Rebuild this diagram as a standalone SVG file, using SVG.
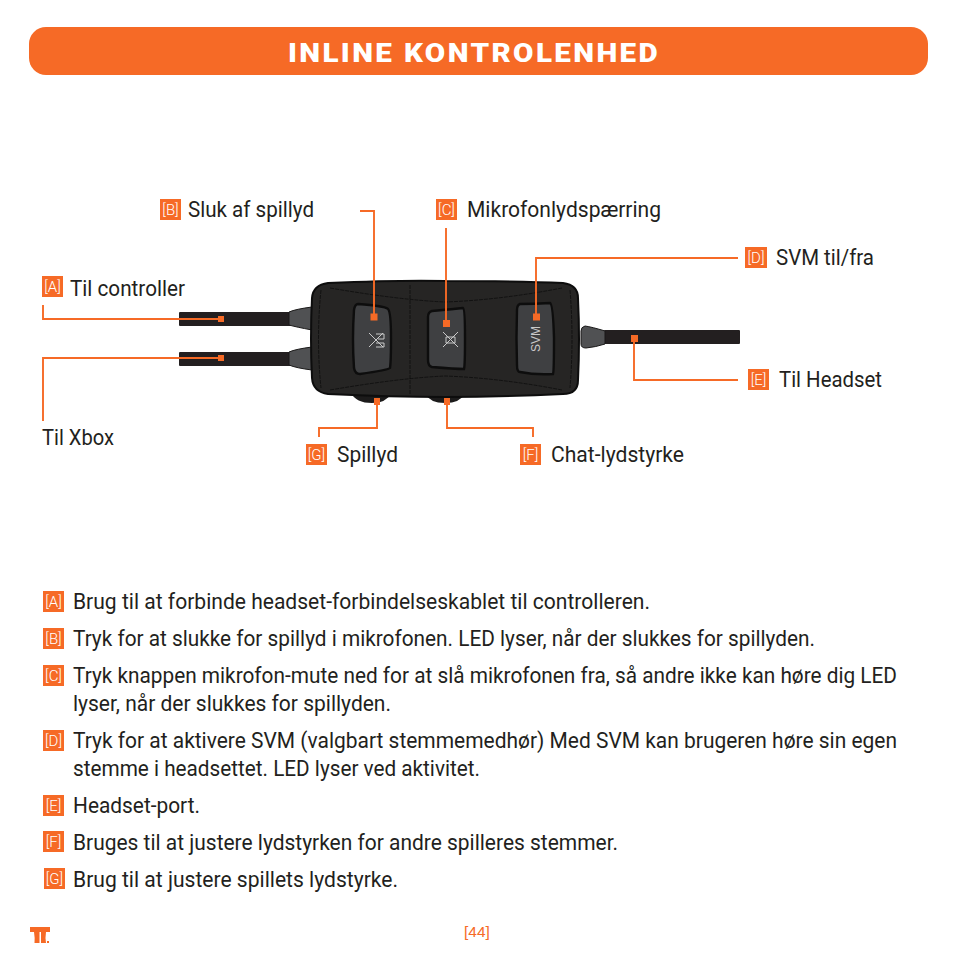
<svg xmlns="http://www.w3.org/2000/svg" width="954" height="954" viewBox="0 0 954 954">
<style>
.t{font-family:"Roboto","Liberation Sans",sans-serif;font-size:22px;fill:#231f20}
.b{fill:#f66a26}
.bt{font-family:"Roboto","Liberation Sans",sans-serif;font-weight:300;font-size:15px;fill:#fff;text-anchor:middle}
.l{fill:none;stroke:#f66a26;stroke-width:1.9}
.s{fill:#f66a26}
.btn{fill:#3f4042;stroke:#0d0d0d;stroke-width:2.4}
.gr{fill:#505153;stroke:#1a1919;stroke-width:1}
.c{fill:#231f20}
.g{fill:none;stroke:#c9c9c9;stroke-width:1}
.d{fill:none;stroke:#0c0c0c;stroke-width:.8}
</style>
<rect x="0" y="0" width="954" height="954" fill="#fff"/>
<g id="header"><rect x="29" y="27" width="899" height="48" rx="17" fill="#f66a26"/>
<text x="288" y="61.500" font-family="'Roboto',sans-serif" font-weight="900" font-size="25" letter-spacing="2" fill="#fff" textLength="372" lengthAdjust="spacingAndGlyphs">INLINE KONTROLENHED</text></g>
<g id="device">
<rect class="c" x="179" y="312" width="112" height="14" rx="1"/>
<rect class="c" x="179" y="352" width="112" height="14" rx="1"/>
<rect class="c" x="604" y="330" width="136" height="14" rx="1"/>
<path class="gr" d="M289 312Q296 309 312 307V330Q296 327 289 325Z"/>
<path class="gr" d="M289 352Q296 349 312 347V370Q296 368 289 365Z"/>
<path class="gr" d="M605 331Q592 327 585 326Q581 327 581 331V344Q581 348 586 348Q596 347 605 344Z"/>
<path d="M351 393Q356 403 372 403Q386 403 392 393ZM424 393Q430 403 445 403Q460 403 466 393Z" fill="#1c1b1b"/>
<path d="M328 283Q400 280 445 281Q520 281 563 283Q578 285 578 298Q580 339 578 380Q578 394 563 394Q500 397 445 397Q390 397 328 394Q313 392 312 378Q310 339 312 298Q313 285 328 283Z" fill="#262524" stroke="#0d0d0d" stroke-width="2"/>
<path class="d" d="M330 288Q400 300 445 302Q500 300 562 288M330 390Q400 378 445 376Q500 378 562 390M410 285V394M321 290Q316 339 321 388M570 290Q574 339 570 388" stroke-dasharray="4 1"/>
<path class="btn" d="M358 304Q385 306 388 309Q391 312 391 338Q391 362 390 368Q388 370 360 374Q355 374 354 368Q352 339 354 310Q355 304 358 304Z"/>
<path class="btn" d="M432 311Q455 309 463 308Q465 309 465 338Q465 366 464 369Q455 369 432 367Q428 366 428 360V317Q428 312 432 311Z"/>
<path class="btn" d="M520 304Q535 304 550 303Q553 304 554 338Q554 372 553 374Q535 375 520 372Q517 372 517 365Q516 338 517 310Q517 305 520 304Z"/>
<path class="g" d="M369 333L383 347M383 333L369 347M376 334H384V339H378M376 343H384V347H376"/>
<path class="g" d="M443 332L458 347M458 332L443 347M446 337H455V343H446Z"/>
<text x="540" y="339" font-family="'Liberation Sans',sans-serif" font-size="12" fill="#c9c9c9" text-anchor="middle" transform="rotate(-90 540 339)">SVM</text>
</g>
<g id="connectors">
<path class="l" d="M43 305V319H221"/><rect class="s" x="218" y="316" width="6" height="6"/>
<path class="l" d="M43 421V358H221"/><rect class="s" x="218" y="355" width="6" height="6"/>
<path class="l" d="M360 211H374V317"/><rect class="s" x="370.500" y="313.500" width="7" height="7"/>
<path class="l" d="M446 228V323"/><rect class="s" x="443" y="320" width="7" height="7"/>
<path class="l" d="M738 258H536V317"/><rect class="s" x="533" y="313.500" width="7" height="7"/>
<path class="l" d="M634 339V380H738"/><rect class="s" x="631" y="335" width="7" height="7"/>
<path class="l" d="M533 437V428H447V400"/><rect class="s" x="444" y="398" width="6" height="7"/>
<path class="l" d="M319 437V428H377V400"/><rect class="s" x="374" y="398" width="6" height="7"/>
</g>
<g id="labels">
<rect class="b" x="160" y="199" width="21" height="21"/><text class="bt" x="170.500" y="215">[B]</text><text class="t" x="188" y="217" textLength="126" lengthAdjust="spacingAndGlyphs">Sluk af spillyd</text>
<rect class="b" x="436" y="199" width="21" height="21"/><text class="bt" x="446.500" y="215">[C]</text><text class="t" x="467" y="217" textLength="194" lengthAdjust="spacingAndGlyphs">Mikrofonlydspærring</text>
<rect class="b" x="745" y="247" width="22" height="21"/><text class="bt" x="756" y="263">[D]</text><text class="t" x="776" y="265" textLength="98" lengthAdjust="spacingAndGlyphs">SVM til/fra</text>
<rect class="b" x="42" y="276" width="21" height="21"/><text class="bt" x="52.500" y="292">[A]</text><text class="t" x="70" y="296" textLength="115" lengthAdjust="spacingAndGlyphs">Til controller</text>
<rect class="b" x="748" y="369" width="21" height="21"/><text class="bt" x="758.500" y="385">[E]</text><text class="t" x="779" y="387" textLength="103" lengthAdjust="spacingAndGlyphs">Til Headset</text>
<text class="t" x="42" y="445" textLength="72" lengthAdjust="spacingAndGlyphs">Til Xbox</text>
<rect class="b" x="306" y="444" width="21" height="21"/><text class="bt" x="316.500" y="460">[G]</text><text class="t" x="337" y="462" textLength="61" lengthAdjust="spacingAndGlyphs">Spillyd</text>
<rect class="b" x="520" y="444" width="21" height="21"/><text class="bt" x="530.500" y="460">[F]</text><text class="t" x="551" y="462" textLength="133" lengthAdjust="spacingAndGlyphs">Chat-lydstyrke</text>
</g>
<g id="legend">
<rect class="b" x="43" y="591" width="21" height="21"/><text class="bt" x="53.500" y="607">[A]</text><text class="t" x="73" y="609" textLength="577" lengthAdjust="spacingAndGlyphs">Brug til at forbinde headset-forbindelseskablet til controlleren.</text>
<rect class="b" x="43" y="628" width="21" height="21"/><text class="bt" x="53.500" y="644">[B]</text><text class="t" x="73" y="646" textLength="742" lengthAdjust="spacingAndGlyphs">Tryk for at slukke for spillyd i mikrofonen. LED lyser, når der slukkes for spillyden.</text>
<rect class="b" x="43" y="665" width="21" height="21"/><text class="bt" x="53.500" y="681">[C]</text><text class="t" x="73" y="683" textLength="824" lengthAdjust="spacingAndGlyphs">Tryk knappen mikrofon-mute ned for at slå mikrofonen fra, så andre ikke kan høre dig LED</text>
<text class="t" x="73" y="711" textLength="318" lengthAdjust="spacingAndGlyphs">lyser, når der slukkes for spillyden.</text>
<rect class="b" x="43" y="730" width="21" height="21"/><text class="bt" x="53.500" y="746">[D]</text><text class="t" x="73" y="748" textLength="824" lengthAdjust="spacingAndGlyphs">Tryk for at aktivere SVM (valgbart stemmemedhør) Med SVM kan brugeren høre sin egen</text>
<text class="t" x="73" y="776" textLength="407" lengthAdjust="spacingAndGlyphs">stemme i headsettet. LED lyser ved aktivitet.</text>
<rect class="b" x="43" y="795" width="21" height="21"/><text class="bt" x="53.500" y="811">[E]</text><text class="t" x="73" y="813" textLength="127" lengthAdjust="spacingAndGlyphs">Headset-port.</text>
<rect class="b" x="43" y="831" width="21" height="21"/><text class="bt" x="53.500" y="847">[F]</text><text class="t" x="73" y="850" textLength="545" lengthAdjust="spacingAndGlyphs">Bruges til at justere lydstyrken for andre spilleres stemmer.</text>
<rect class="b" x="44" y="868" width="21" height="21"/><text class="bt" x="54.500" y="884">[G]</text><text class="t" x="73" y="887" textLength="325" lengthAdjust="spacingAndGlyphs">Brug til at justere spillets lydstyrke.</text>
</g>
<g id="footer">
<path class="s" d="M30 927H50V932H46Q45 938 46 943H41V932H39.500V943H34.500Q35 938 34 932H30Z"/>
<rect class="s" x="47" y="941" width="2" height="2"/>
<text x="477" y="937" font-family="'Liberation Sans',sans-serif" font-size="15.500" fill="#f66a26" text-anchor="middle">[44]</text>
</g>
</svg>
